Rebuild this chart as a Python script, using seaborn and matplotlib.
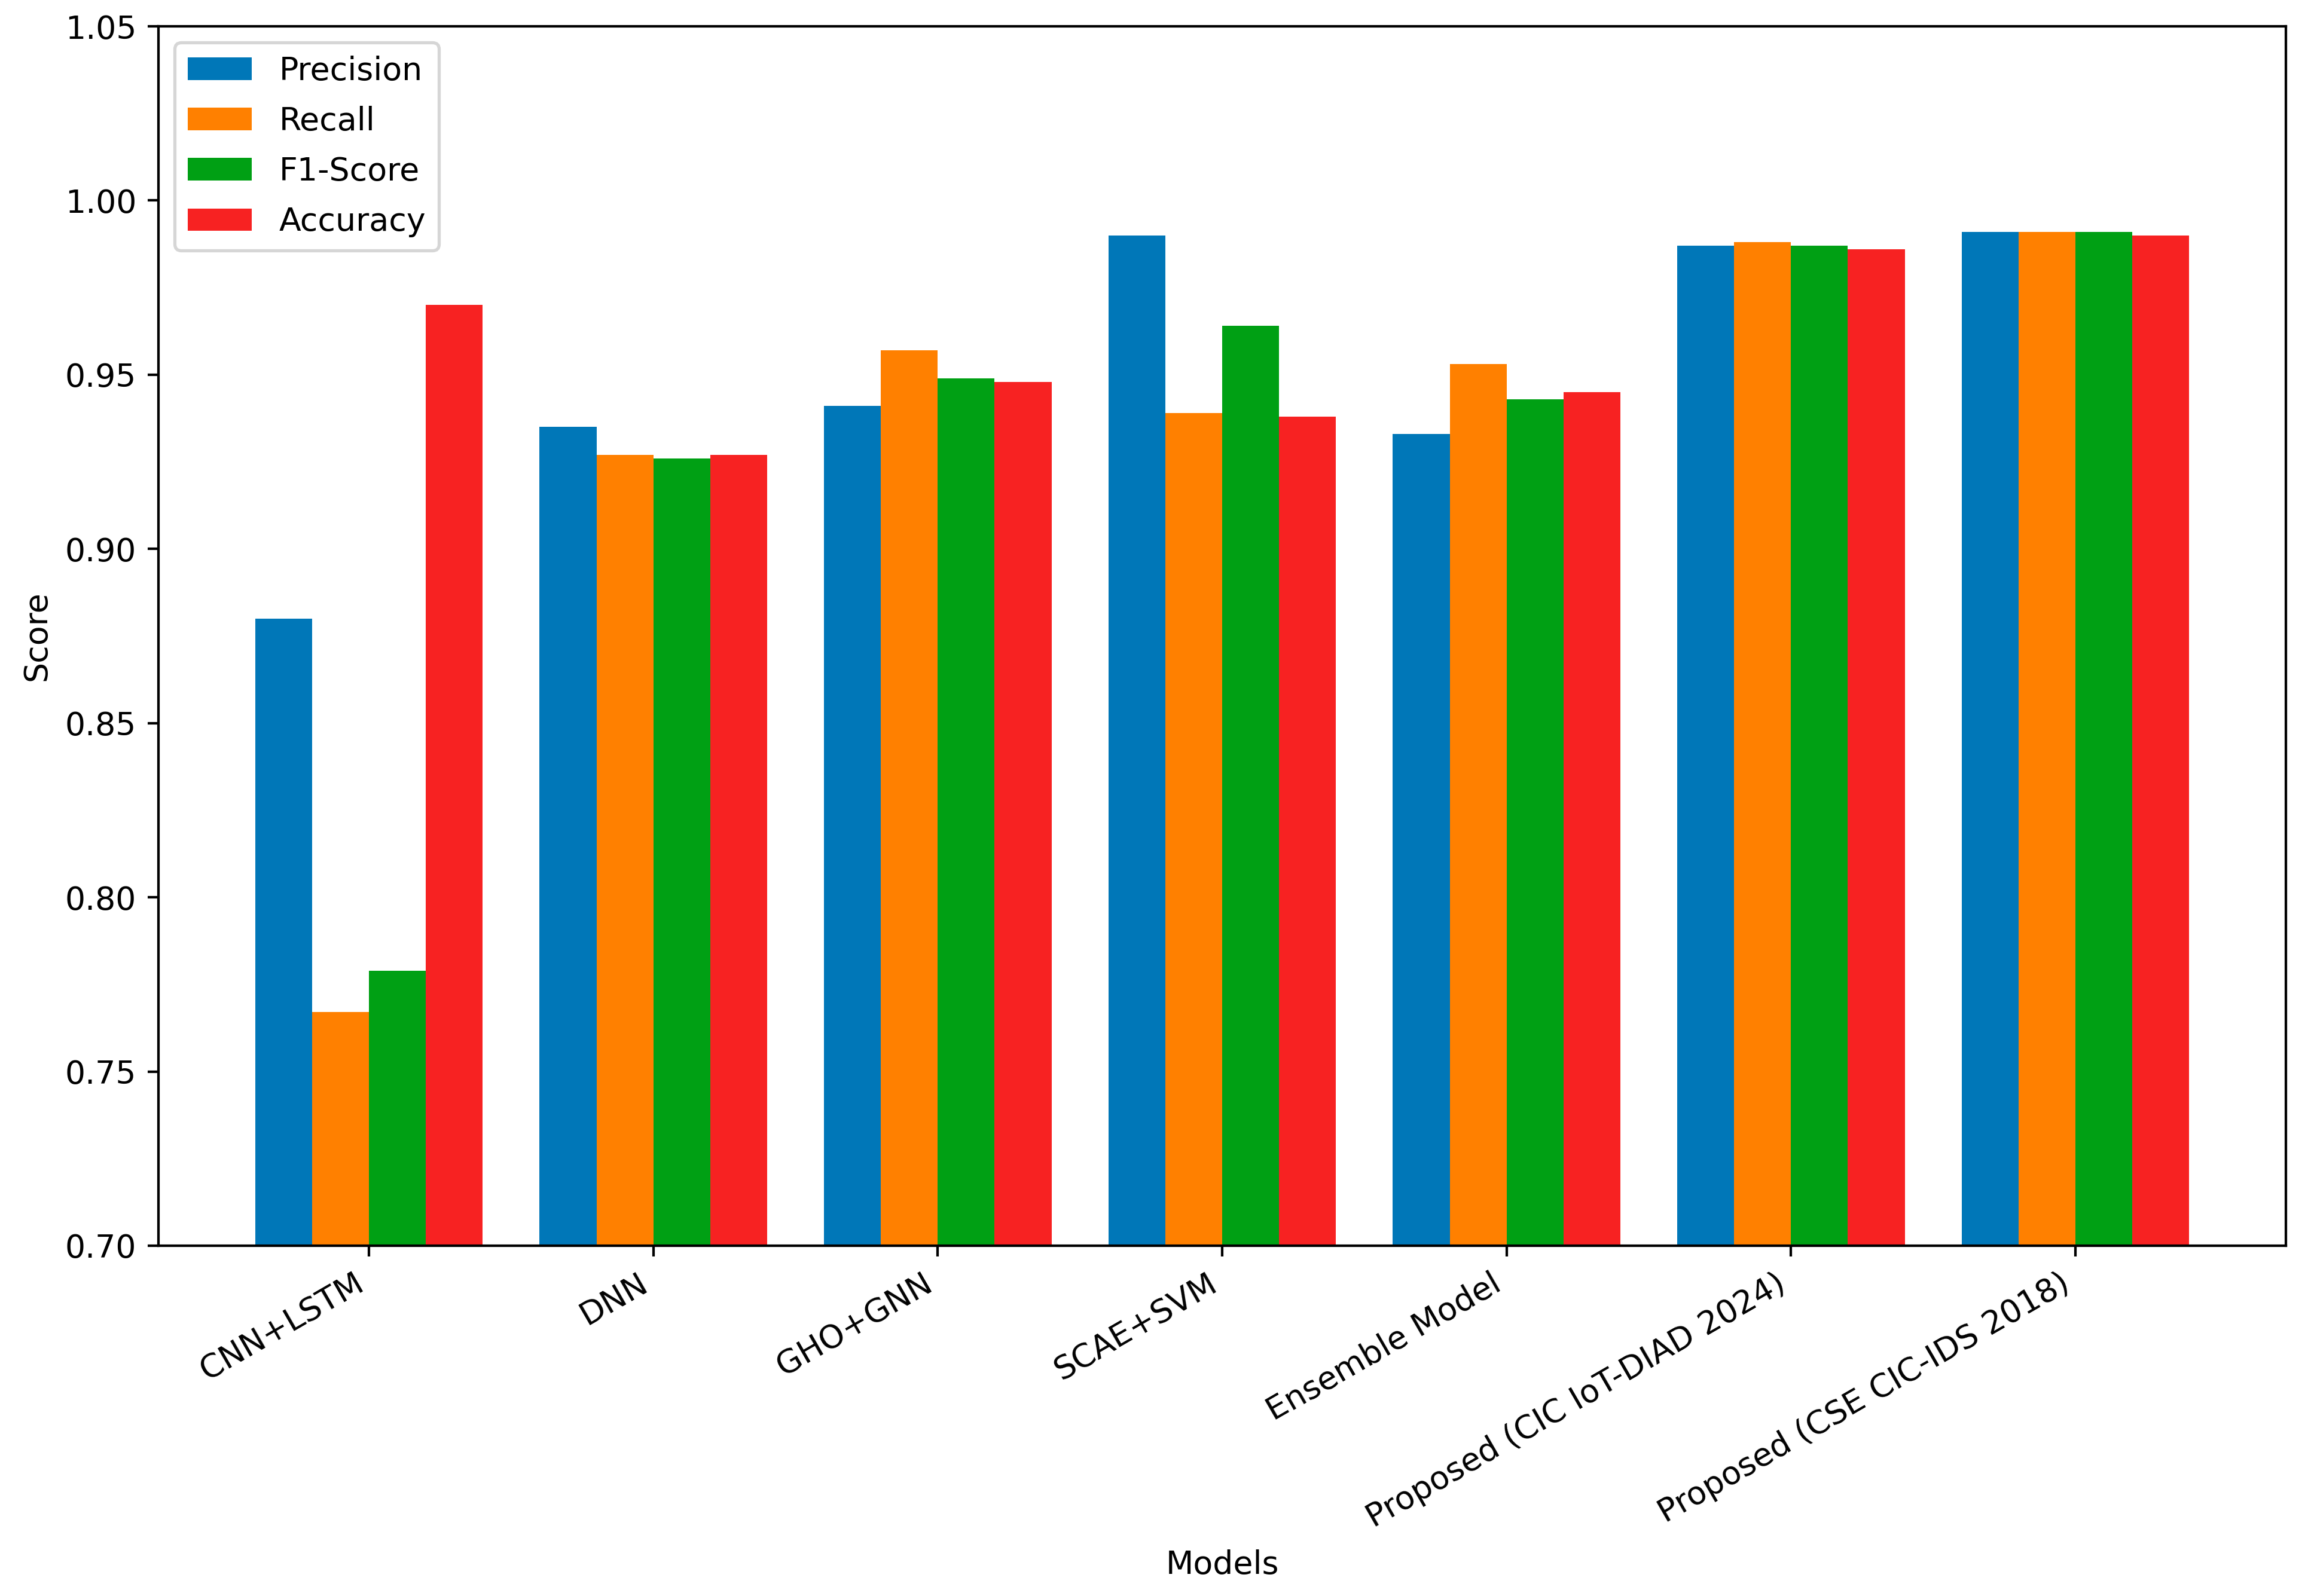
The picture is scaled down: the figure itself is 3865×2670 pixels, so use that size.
import matplotlib
matplotlib.use("Agg")
import matplotlib.pyplot as plt
import seaborn as sns
import pandas as pd

models = ["CNN+LSTM", "DNN", "GHO+GNN", "SCAE+SVM", "Ensemble Model",
          "Proposed (CIC IoT-DIAD 2024)", "Proposed (CSE CIC-IDS 2018)"]
metrics = ["Precision", "Recall", "F1-Score", "Accuracy"]

precision = [0.880, 0.935, 0.941, 0.990, 0.933, 0.987, 0.991]
recall    = [0.767, 0.927, 0.957, 0.939, 0.953, 0.988, 0.991]
f1_score  = [0.779, 0.926, 0.949, 0.964, 0.943, 0.987, 0.991]
accuracy  = [0.970, 0.927, 0.948, 0.938, 0.945, 0.986, 0.990]

colors = ["#0077b8", "#ff8000", "#00a014", "#f72222"]

rows = []
for metric, vals in zip(metrics, [precision, recall, f1_score, accuracy]):
    for m, v in zip(models, vals):
        rows.append({"Models": m, "Metric": metric, "Score": v})
df = pd.DataFrame(rows)

plt.rcParams["font.size"] = 10.2

dpi = 380
fig = plt.figure(figsize=(3865 / dpi, 2670 / dpi), dpi=dpi)
ax = fig.add_axes([0.0686, 0.2195, 0.9205, 0.764])

sns.barplot(data=df, x="Models", y="Score", hue="Metric", order=models,
            hue_order=metrics, palette=colors, saturation=1, errorbar=None,
            width=0.8, gap=0, ax=ax, linewidth=0)

ax.set_ylim(0.70, 1.05)
ax.set_yticks([0.70, 0.75, 0.80, 0.85, 0.90, 0.95, 1.00, 1.05])
ax.set_yticklabels([f"{t:.2f}" for t in ax.get_yticks()])
ax.set_xlim(-0.74, 6.74)
ax.set_xlabel("Models", labelpad=5)
ax.set_ylabel("Score")
plt.setp(ax.get_xticklabels(), rotation=30, ha="right")
for s in ax.spines.values():
    s.set_visible(True)
    s.set_color("black")

sns.move_legend(ax, "upper left", title=None, labelspacing=0.6,
                handletextpad=0.85)

fig.savefig("out.png", dpi=dpi)
